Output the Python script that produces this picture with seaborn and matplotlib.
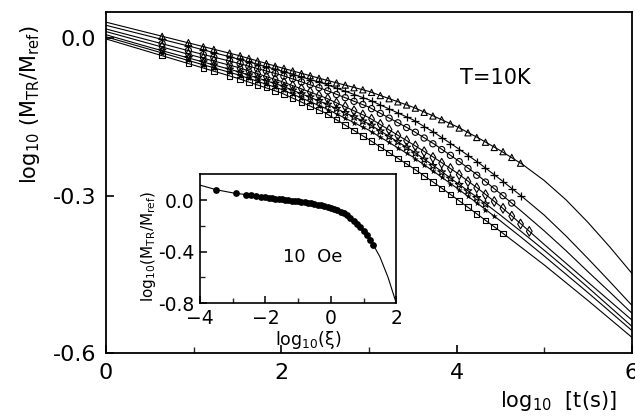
import numpy as np
import pandas as pd
import matplotlib
matplotlib.use("Agg")
import matplotlib.pyplot as plt
import seaborn as sns
from matplotlib.ticker import MultipleLocator, FixedLocator, FormatStrFormatter

# === Data ===
# fitted curves, log10 t
logt_fit = [0.0, 0.5, 1.0, 1.5, 2.0, 2.5, 3.0, 3.5, 3.75, 4.0, 4.25, 4.5, 4.75, 5.0, 5.25, 5.5, 5.75, 6.0]
fit_tri = [0.031, 0.010, -0.011, -0.032, -0.056, -0.079, -0.101, -0.131, -0.149, -0.168, -0.190, -0.214,
           -0.240, -0.271, -0.308, -0.351, -0.398, -0.448]
fit_plus = [0.025, 0.004, -0.017, -0.039, -0.062, -0.087, -0.117, -0.155, -0.180, -0.208, -0.237, -0.269,
            -0.302, -0.337, -0.377, -0.420, -0.464, -0.509]
fit_circ = [0.018, -0.004, -0.026, -0.047, -0.070, -0.098, -0.131, -0.176, -0.202, -0.231, -0.262, -0.296,
            -0.331, -0.367, -0.405, -0.445, -0.484, -0.524]
fit_diam = [0.013, -0.010, -0.033, -0.055, -0.082, -0.113, -0.151, -0.202, -0.228, -0.256, -0.287, -0.320,
            -0.356, -0.393, -0.429, -0.465, -0.501, -0.537]
fit_star = [0.007, -0.017, -0.040, -0.063, -0.090, -0.124, -0.163, -0.215, -0.244, -0.275, -0.305, -0.337,
            -0.370, -0.404, -0.439, -0.475, -0.512, -0.549]
fit_fstar = [0.003, -0.021, -0.045, -0.069, -0.097, -0.133, -0.175, -0.226, -0.255, -0.285, -0.316, -0.348,
             -0.381, -0.415, -0.450, -0.485, -0.521, -0.557]
fit_sq = [-0.001, -0.026, -0.051, -0.076, -0.104, -0.142, -0.193, -0.247, -0.276, -0.306, -0.337, -0.368,
          -0.400, -0.432, -0.466, -0.500, -0.535, -0.570]

# measured points (log10 t); each series uses the first len(series) times
logt_pts = [0.64, 0.94, 1.11, 1.23, 1.41,
            1.53, 1.63, 1.73, 1.83, 1.93,
            2.03, 2.13, 2.23, 2.33, 2.43,
            2.53, 2.63, 2.73, 2.83, 2.93,
            3.03, 3.13, 3.23, 3.33, 3.43,
            3.53, 3.63, 3.73, 3.83, 3.93,
            4.03, 4.13, 4.23, 4.33, 4.43,
            4.53, 4.63, 4.73, 4.83]
pts_tri = [0.004, -0.008, -0.016, -0.021, -0.028,
           -0.033, -0.038, -0.043, -0.048, -0.053,
           -0.057, -0.062, -0.067, -0.071, -0.076,
           -0.080, -0.085, -0.089, -0.094, -0.098,
           -0.103, -0.109, -0.115, -0.121, -0.127,
           -0.133, -0.141, -0.148, -0.155, -0.163,
           -0.171, -0.180, -0.189, -0.198, -0.208,
           -0.216, -0.227, -0.238]
pts_plus = [-0.002, -0.014, -0.022, -0.027, -0.035,
            -0.040, -0.045, -0.050, -0.054, -0.059,
            -0.064, -0.069, -0.074, -0.079, -0.084,
            -0.089, -0.095, -0.101, -0.107, -0.113,
            -0.119, -0.127, -0.134, -0.142, -0.150,
            -0.158, -0.169, -0.179, -0.190, -0.201,
            -0.212, -0.224, -0.236, -0.248, -0.260,
            -0.273, -0.287, -0.300]
pts_circ = [-0.010, -0.023, -0.031, -0.036, -0.043,
            -0.048, -0.053, -0.058, -0.062, -0.067,
            -0.072, -0.077, -0.083, -0.088, -0.094,
            -0.100, -0.107, -0.113, -0.120, -0.126,
            -0.134, -0.143, -0.152, -0.161, -0.170,
            -0.179, -0.190, -0.201, -0.212, -0.223,
            -0.235, -0.248, -0.261, -0.274, -0.287,
            -0.300, -0.314]
pts_diam = [-0.016, -0.030, -0.038, -0.043, -0.051,
            -0.057, -0.062, -0.067, -0.073, -0.078,
            -0.084, -0.090, -0.096, -0.102, -0.109,
            -0.115, -0.123, -0.130, -0.138, -0.146,
            -0.154, -0.164, -0.174, -0.185, -0.195,
            -0.205, -0.216, -0.227, -0.238, -0.248,
            -0.260, -0.273, -0.285, -0.298, -0.311,
            -0.324, -0.339, -0.354, -0.368]
pts_star = [-0.023, -0.037, -0.045, -0.051, -0.059,
            -0.065, -0.070, -0.075, -0.081, -0.086,
            -0.092, -0.099, -0.106, -0.112, -0.119,
            -0.126, -0.134, -0.142, -0.150, -0.158,
            -0.166, -0.177, -0.187, -0.197, -0.208,
            -0.219, -0.231, -0.243, -0.255, -0.267,
            -0.279, -0.291, -0.304, -0.316]
pts_fstar = [-0.028, -0.042, -0.050, -0.056, -0.065,
             -0.071, -0.076, -0.082, -0.087, -0.093,
             -0.099, -0.106, -0.114, -0.121, -0.128,
             -0.136, -0.144, -0.152, -0.161, -0.169,
             -0.178, -0.188, -0.198, -0.209, -0.219,
             -0.230, -0.241, -0.253, -0.265, -0.277,
             -0.289, -0.301, -0.314, -0.327, -0.339]
pts_sq = [-0.033, -0.048, -0.057, -0.063, -0.072,
          -0.078, -0.083, -0.089, -0.094, -0.100,
          -0.106, -0.114, -0.121, -0.129, -0.137,
          -0.145, -0.155, -0.165, -0.176, -0.186,
          -0.196, -0.207, -0.218, -0.229, -0.239,
          -0.251, -0.262, -0.274, -0.286, -0.298,
          -0.310, -0.322, -0.335, -0.347, -0.359,
          -0.372]

# inset: scaled curve (10 Oe)
xi_fit = [-4.0, -3.5, -3.0, -2.5, -2.0, -1.5, -1.0, -0.5, 0.0, 0.5, 0.75, 1.0, 1.25, 1.5, 1.75, 2.0]
m_fit = [0.116, 0.080, 0.056, 0.039, 0.022, 0.006, -0.011, -0.030, -0.060, -0.117, -0.172, -0.240,
         -0.325, -0.440, -0.600, -0.800]
xi_pts = [-3.5, -2.9, -2.6, -2.45, -2.3, -2.15, -2.0, -1.9, -1.8, -1.7, -1.6, -1.5, -1.4, -1.3,
          -1.2, -1.1, -1.0, -0.9, -0.8, -0.7, -0.6, -0.5, -0.4, -0.3, -0.2, -0.1, 0.0, 0.1,
          0.2, 0.3, 0.4, 0.5, 0.6, 0.7, 0.8, 0.9, 1.0, 1.1, 1.2, 1.3]
m_pts = [0.080, 0.053, 0.042, 0.037, 0.032, 0.027, 0.022, 0.019, 0.016, 0.012, 0.009, 0.006, 0.003, -0.001,
         -0.004, -0.008, -0.011, -0.015, -0.018, -0.022, -0.026, -0.030, -0.035, -0.041, -0.047, -0.053,
         -0.060, -0.069, -0.080, -0.091, -0.104, -0.117, -0.137, -0.160, -0.185, -0.212, -0.240, -0.274,
         -0.308, -0.346]

# series: (fit, points, marker, open marker?, size)
series = [
    (fit_tri, pts_tri, "^", True, 20),
    (fit_plus, pts_plus, "+", False, 30),
    (fit_circ, pts_circ, "o", True, 20),
    (fit_diam, pts_diam, "d", True, 24),
    (fit_star, pts_star, "*", True, 34),
    (fit_fstar, pts_fstar, "*", False, 24),
    (fit_sq, pts_sq, "s", True, 16),
]

# === Style ===
sns.set_theme(style="ticks")
plt.rcParams["font.family"] = ["DejaVu Sans"]
plt.rcParams["mathtext.default"] = "regular"
plt.rcParams["axes.linewidth"] = 1.3

fig = plt.figure(figsize=(6.35, 4.17), dpi=100)
ax = fig.add_axes([0.167, 0.1535, 0.828, 0.818])

for fit, pts, mk, is_open, size in series:
    sns.lineplot(x=logt_fit, y=fit, ax=ax, color="black", lw=0.8, zorder=2)
    xs = logt_pts[:len(pts)]
    if is_open:
        sns.scatterplot(x=xs, y=pts, ax=ax, marker=mk, s=size, facecolor="none",
                        edgecolor="black", linewidth=0.8, zorder=3)
    else:
        sns.scatterplot(x=xs, y=pts, ax=ax, marker=mk, s=size, color="black",
                        linewidth=0.9 if mk == "+" else 0, zorder=3)

ax.set_xlim(0, 6)
ax.set_ylim(-0.6, 0.0506)
ax.xaxis.set_major_locator(MultipleLocator(2))
ax.xaxis.set_minor_locator(MultipleLocator(1))
ax.yaxis.set_major_locator(MultipleLocator(0.3))
ax.yaxis.set_major_formatter(FormatStrFormatter("%.1f"))
ax.tick_params(which="major", direction="in", length=6, width=1.2, labelsize=16, pad=7,
               top=False, right=False, color="black", labelcolor="black")
ax.tick_params(which="minor", direction="in", length=4, width=1.0, top=False, right=False)
for sp in ax.spines.values():
    sp.set_visible(True)
    sp.set_color("black")

ax.set_xlabel(r"$\mathregular{log_{10}\ \ [t(s)]}$", fontsize=15, color="black")
ax.xaxis.set_label_coords(0.86, -0.105)
ax.set_ylabel(r"$\mathregular{log_{10}\ (M_{TR}/M_{ref})}$", fontsize=15, color="black")
ax.yaxis.set_label_coords(-0.122, 0.727)
ax.text(4.44, -0.075, "T=10K", ha="center", va="center", fontsize=15, color="black")

# === Inset ===
axin = fig.add_axes([0.315, 0.273, 0.309, 0.309])
sns.lineplot(x=xi_fit, y=m_fit, ax=axin, color="black", lw=0.8, zorder=2)
sns.scatterplot(x=xi_pts, y=m_pts, ax=axin, marker="o", s=24, color="black", linewidth=0, zorder=3)
axin.set_xlim(-4, 2)
axin.set_ylim(-0.8, 0.2)
axin.xaxis.set_major_locator(MultipleLocator(2))
axin.xaxis.set_minor_locator(MultipleLocator(1))
axin.yaxis.set_major_locator(FixedLocator([-0.8, -0.4, 0.0]))
axin.yaxis.set_minor_locator(FixedLocator([-0.6, -0.2]))
axin.yaxis.set_major_formatter(FormatStrFormatter("%.1f"))
axin.tick_params(which="major", direction="in", length=5, width=1.1, labelsize=13.5, pad=4,
                 top=False, right=False, color="black", labelcolor="black")
axin.tick_params(which="minor", direction="in", length=3.5, width=1.0, top=False, right=False)
for sp in axin.spines.values():
    sp.set_linewidth(1.2)
    sp.set_color("black")
axin.set_xlabel(r"$\mathregular{log_{10}}(\xi)$", fontsize=12.5, color="black")
axin.xaxis.set_label_coords(0.55, -0.2)
axin.set_ylabel(r"$\mathregular{log_{10}(M_{TR}/M_{ref})}$", fontsize=11, color="black")
axin.yaxis.set_label_coords(-0.215, 0.44)
axin.text(-0.57, -0.44, "10  Oe", ha="center", va="center", fontsize=13, color="black")

fig.savefig("out.png", dpi=100)
